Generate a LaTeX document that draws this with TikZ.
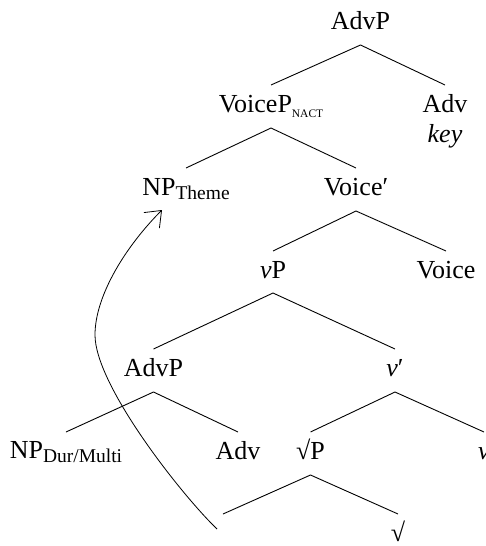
\documentclass[tikz,border=0pt]{standalone}
\usepackage{fontspec}
\setmainfont{Liberation Serif}
\usetikzlibrary{arrows.meta}
\newcommand\lsub[1]{\raisebox{-4.5pt}{\fontsize{19.5}{20}\selectfont #1}}
\newcommand\nsub[1]{\raisebox{-5pt}{\fontsize{11.5}{12}\selectfont #1}}
\begin{document}
\begin{tikzpicture}[x=1pt,y=-1pt,
  lbl/.style={anchor=base,inner sep=0pt,outer sep=0pt,font=\fontsize{26}{30}\selectfont},
  branch/.style={line width=0.9pt},
  movearrow/.style={line width=0.8pt,-{Straight Barb[length=14pt,width=22pt]}}]
\useasboundingbox (0,0) rectangle (486,546);
% nodes
\node[lbl] (advp) at (360.5,29) {AdvP};
\node[lbl] (voicep) at (271,112) {VoiceP\nsub{NACT}};
\node[lbl] (adv1) at (445,112) {Adv};
\node[lbl] (key) at (445,142) {\itshape key};
\node[lbl] (npt) at (186,195) {NP\lsub{Theme}};
\node[lbl] (voicebar) at (356,195) {Voice′};
\node[lbl] (vp) at (273,278) {\textit{v}P};
\node[lbl] (voice) at (446,278) {Voice};
\node[lbl] (advp2) at (153.5,376) {AdvP};
\node[lbl] (vbar) at (395,376) {\textit{v}′};
\node[lbl] (npd) at (66,458) {NP\lsub{Dur/Multi}};
\node[lbl] (adv2) at (238,459) {Adv};
\node[lbl] (rootp) at (310.5,459) {√P};
\node[lbl] (vlow) at (484,459) {\textit{v}};
\node[lbl] (t) at (223,541) {};
\node[lbl] (root) at (398,541) {√};
% branches
\draw[branch] ([yshift=27pt]voicep.base) -- ([yshift=-16pt]advp.base) -- ([yshift=27pt]adv1.base);
\draw[branch] ([yshift=27pt]npt.base) -- ([yshift=-16pt]voicep.base) -- ([yshift=27pt]voicebar.base);
\draw[branch] ([yshift=27pt]vp.base) -- ([yshift=-16pt]voicebar.base) -- ([yshift=27pt]voice.base);
\draw[branch] ([yshift=27pt]advp2.base) -- ([yshift=-15pt]vp.base) -- ([yshift=27pt]vbar.base);
\draw[branch] ([yshift=26pt]npd.base) -- ([yshift=-16pt]advp2.base) -- ([yshift=27pt]adv2.base);
\draw[branch] ([yshift=27pt]rootp.base) -- ([yshift=-16pt]vbar.base) -- ([yshift=27pt]vlow.base);
\draw[branch] ([yshift=27pt]t.base) -- ([yshift=-16pt]rootp.base) -- ([yshift=27pt]root.base);
% movement arrow
\coordinate (aS) at ([xshift=-6pt,yshift=12pt]t.base);
\coordinate (aE) at ([xshift=-24pt,yshift=-15pt]npt.base);
\draw[movearrow] (aS) .. controls (181,494.3) and (95,385) .. (95,335)
  .. controls (95,295) and (126.6,245.4) .. (aE);
\end{tikzpicture}
\end{document}
